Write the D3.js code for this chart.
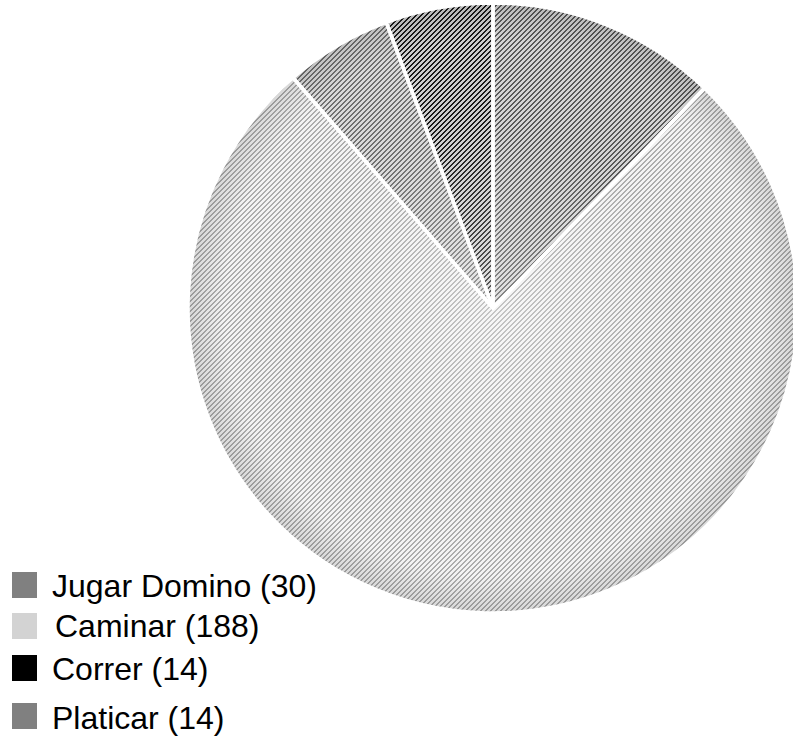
<!DOCTYPE html>
<html>
<head>
<meta charset="utf-8">
<script src="https://cdn.jsdelivr.net/npm/d3@7"></script>
<style>
  html, body { margin: 0; padding: 0; background: #fff; }
  svg { display: block; }
</style>
</head>
<body>
<svg id="chart" width="793" height="740"></svg>
<script>
// ---- data ----
const categories = ["Jugar Domino", "Caminar", "Correr", "Platicar"];
const values = [30, 188, 14, 14];
const legendColors = ["#808080", "#d3d3d3", "#000000", "#808080"];
// order in which slices run clockwise from 12 o'clock
const sliceOrder = ["Jugar Domino", "Caminar", "Platicar", "Correr"];
// hatch pattern colours (background, stripe)
const hatchBg = ["#d4d4d4", "#f3f3f3", "#cfcfcf", "#dadada"];
const hatchFg = ["#585858", "#adadad", "#1a1a1a", "#707070"];

const data = categories.map((c, i) => ({name: c, value: values[i], color: legendColors[i], bg: hatchBg[i], fg: hatchFg[i], idx: i}));

const svg = d3.select("#chart");
const defs = svg.append("defs");
const cx = 493, cy = 308, R = 305;

// hatch patterns ("/" direction)
data.forEach(d => {
  const p = defs.append("pattern")
    .attr("id", "hatch" + d.idx)
    .attr("patternUnits", "userSpaceOnUse")
    .attr("width", 5).attr("height", 5);
  p.append("rect").attr("width", 5).attr("height", 5).attr("fill", d.bg);
  for (let i = 0; i < 5; i++) {
    p.append("rect").attr("x", 4 - i).attr("y", i).attr("width", 2).attr("height", 1).attr("fill", d.fg);
  }
  p.append("rect").attr("x", 0).attr("y", 0).attr("width", 1).attr("height", 1).attr("fill", d.fg);
});

// radial shading
const rg = defs.append("radialGradient")
  .attr("id", "shade")
  .attr("gradientUnits", "userSpaceOnUse")
  .attr("cx", 0).attr("cy", 0).attr("r", R);
[[0, "#ffffff", 0.3], [0.6, "#ffffff", 0.0], [0.88, "#000000", 0.0], [1, "#000000", 0.12]]
  .forEach(s => rg.append("stop").attr("offset", s[0]).attr("stop-color", s[1]).attr("stop-opacity", s[2]));

const pie = d3.pie()
  .value(d => d.value)
  .sort((a, b) => sliceOrder.indexOf(a.name) - sliceOrder.indexOf(b.name));
const arc = d3.arc().innerRadius(0).outerRadius(R);
const arcs = pie(data);

const g = svg.append("g").attr("transform", `translate(${cx},${cy})`);
g.selectAll("path.slice").data(arcs).join("path")
  .attr("class", "slice")
  .attr("d", arc)
  .attr("fill", d => `url(#hatch${d.data.idx})`);

g.selectAll("path.shade").data(arcs).join("path")
  .attr("class", "shade")
  .attr("d", arc)
  .attr("fill", "url(#shade)");

g.selectAll("path.edge").data(arcs).join("path")
  .attr("class", "edge")
  .attr("d", arc)
  .attr("fill", "none")
  .attr("stroke", "#ffffff")
  .attr("stroke-width", 3.5)
  .attr("stroke-linejoin", "round");

// legend
const squareTops = [572, 613, 655, 703];
const textX = [52, 55, 52, 52];
const baselines = [597, 637, 680, 729];
const leg = svg.append("g");
data.forEach((d, i) => {
  leg.append("rect")
    .attr("x", 12).attr("y", squareTops[i])
    .attr("width", 25).attr("height", 26)
    .attr("fill", d.color);
  leg.append("text")
    .attr("x", textX[i]).attr("y", baselines[i])
    .attr("font-family", "Liberation Sans, Arial, sans-serif")
    .attr("font-size", 32)
    .attr("fill", "#000")
    .text(`${d.name} (${d.value})`);
});
</script>
</body>
</html>
